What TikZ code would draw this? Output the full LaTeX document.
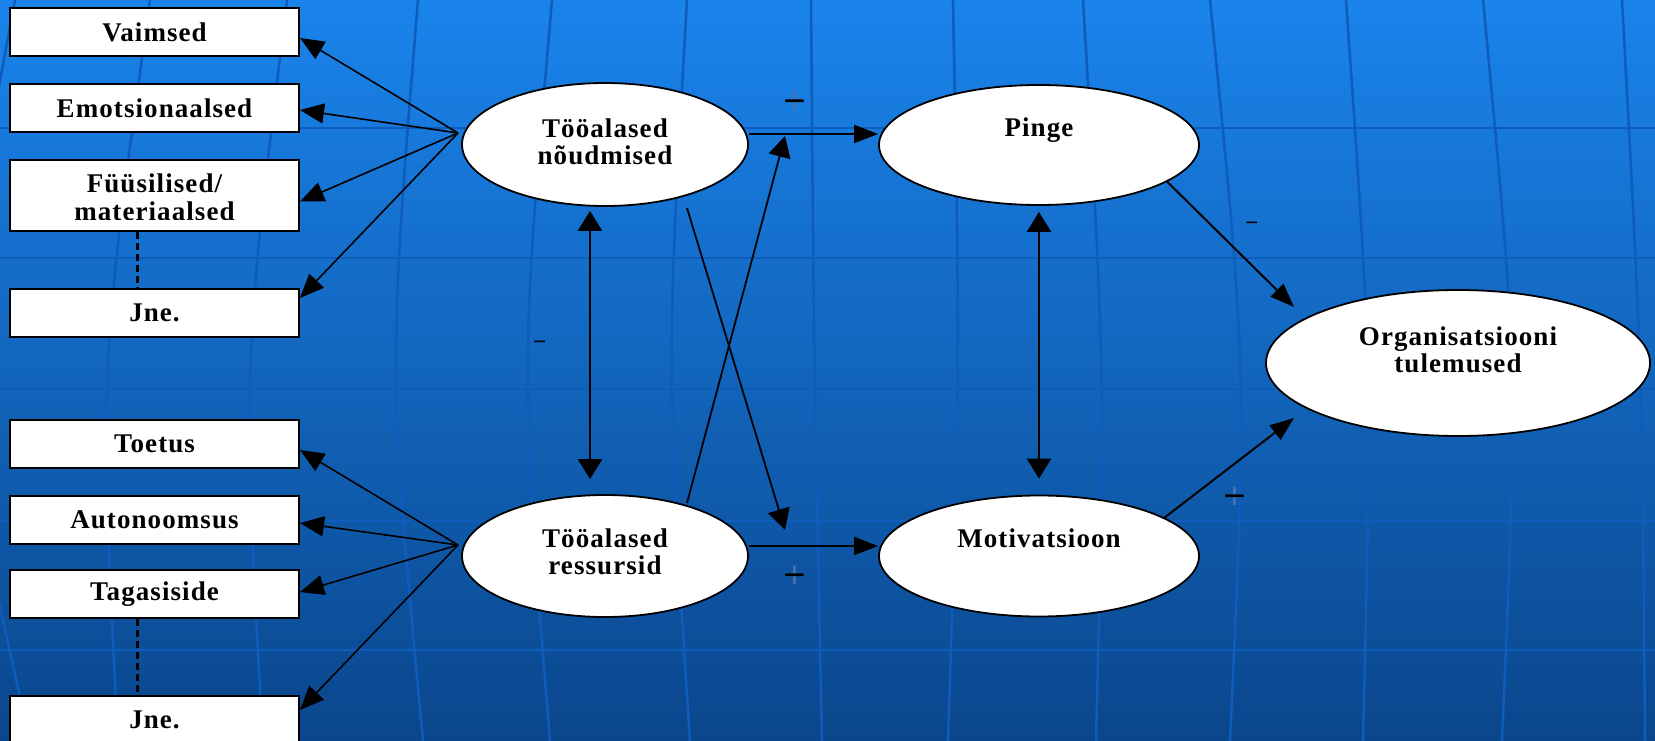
\documentclass[tikz,border=0pt]{standalone}
\usepackage{fontspec}
\setmainfont{Liberation Serif}[LetterSpace=4]
\usetikzlibrary{arrows.meta,shapes.geometric,calc}
\definecolor{bgtop}{RGB}{26,132,236}
\definecolor{bgbot}{RGB}{10,70,140}
\definecolor{gridc}{RGB}{14,92,188}
\definecolor{faintc}{RGB}{70,115,175}
\newcommand\faintplus{\makebox[0pt]{\textcolor{faintc}{+}}\makebox[0pt]{−}}
\tikzset{
  box/.style={draw=black, line width=2pt, fill=white, minimum width=289pt, minimum height=48pt, inner sep=0pt, font=\fontsize{27}{28}\selectfont\bfseries},
  boxtext/.style={inner sep=0pt, align=center, font=\fontsize{27}{28}\selectfont\bfseries},
  oval/.style={ellipse, draw=black, line width=1.8pt, fill=white, inner sep=0pt},
  otext/.style={inner sep=0pt, align=center, font=\fontsize{27}{27}\selectfont\bfseries},
  arr/.style={line width=2pt, -{Triangle[length=24pt,width=18pt]}},
  darr/.style={line width=2.5pt, {Triangle[length=20pt,width=24pt]}-{Triangle[length=20pt,width=24pt]}},
  fan/.style={line width=1.6pt, -{Triangle[length=24pt,width=20pt]}},
  cross/.style={line width=1.8pt, -{Triangle[length=21pt,width=22pt]}},
  dashline/.style={line width=3pt, dash pattern=on 7pt off 4pt},
  signbig/.style={inner sep=0pt, font=\fontsize{40}{40}\selectfont\bfseries},
  signsmall/.style={inner sep=0pt, font=\fontsize{23}{23}\selectfont\bfseries},
  meridian/.style={gridc, line width=2.5pt}
}
\begin{document}
\begin{tikzpicture}[x=1pt,y=-1pt]
% background
\begin{scope}
\clip (0,0) rectangle (1655,741);
\shade[top color=bgtop, bottom color=bgbot] (0,0) rectangle (1655,741);
\foreach \yy in {128,258,389,521,650} {\draw[meridian] (0,\yy) -- (1655,\yy);}
\foreach \xt/\cc/\xb in {15/-54/30, 150/99/118, 287/242/263, 418/388/423, 552/520/550, 687/666/690, 811/814/822, 953/960/948, 1083/1105/1096, 1210/1247/1230, 1346/1372/1363, 1483/1518/1502, 1622/1642/1645}
  {\draw[meridian] (\xt,0) .. controls (\cc,370) .. (\xb,741);}
\end{scope}
\useasboundingbox (0,0) rectangle (1655,741);

% left boxes
\node[box] (b1) at (154.5,32) {Vaimsed};
\node[box] (b2) at (154.5,108) {Emotsionaalsed};
\node[box, minimum height=71pt] (b3) at (154.5,195.5) {};
\begin{scope}
\clip (11,161) rectangle (298,219);
\node[boxtext] (b3t) at (154.5,197.5) {Füüsilised/\\materiaalsed};
\end{scope}
\node[box] (b4) at (154.5,313) {Jne.};
\node[box] (b5) at (154.5,444) {Toetus};
\node[box] (b6) at (154.5,520) {Autonoomsus};
\node[box] (b7) at (154.5,594) {Tagasiside};
\node[box] (b8) at (154.5,720) {Jne.};

\draw[dashline] ([xshift=-17.5pt]b3.south) -- ([xshift=-17.5pt]b4.north);
\draw[dashline] ([xshift=-17.5pt]b7.south) -- ([xshift=-17.5pt]b8.north);

% ellipses
\node[oval, minimum width=286pt, minimum height=123pt] (e1) at (605,144.5) {};
\node[otext] (e1t) at (605,141.5) {Tööalased\\nõudmised};
\node[oval, minimum width=286pt, minimum height=122pt] (e2) at (605,556) {};
\node[otext] (e2t) at (605,552) {Tööalased\\ressursid};
\node[oval, minimum width=320pt, minimum height=120pt] (pinge) at (1039,145) {};
\node[otext] (pinget) at (1039,130) {Pinge};
\node[oval, minimum width=320pt, minimum height=121pt] (motiv) at (1039,556) {};
\node[otext] (motivt) at (1039,538) {Motivatsioon};
\node[oval, minimum width=384pt, minimum height=146pt] (org) at (1458,363) {};
\node[otext] (orgt) at (1458,350) {Organisatsiooni\\tulemused};

% fan coordinates
\coordinate (f1) at (458,133);
\coordinate (f2) at (458,545);
\draw[fan] (f1) -- ([yshift=-6pt]b1.east);
\draw[fan] (f1) -- ([yshift=-2pt]b2.east);
\draw[fan] (f1) -- ([yshift=-6pt]b3.east);
\draw[fan] (f1) -- ([yshift=15pt]b4.east);
\draw[fan] (f2) -- ([yshift=-6pt]b5.east);
\draw[fan] (f2) -- ([yshift=-3pt]b6.east);
\draw[fan] (f2) -- ([yshift=2pt]b7.east);
\draw[fan] (f2) -- ([yshift=10pt]b8.east);

% horizontal arrows
\draw[arr] ([yshift=10.5pt]e1.east) -- ([yshift=11pt]pinge.west);
\draw[arr] ([yshift=10pt]e2.east) -- ([yshift=10pt]motiv.west);

% vertical double arrows
\draw[darr, shorten <=4pt, shorten >=15pt] ([xshift=-15pt]e1.south) -- ([xshift=-15pt]e2.north);
\draw[darr, shorten <=6pt, shorten >=16pt] (pinge.south) -- (motiv.north);

% cross arrows
\coordinate (x1a) at (687,208);
\coordinate (x1b) at (785,530);
\coordinate (x2a) at (687,503);
\coordinate (x2b) at (785,136);
\draw[cross] (x1a) -- (x1b);
\draw[cross] (x2a) -- (x2b);

% to organisation
\coordinate (o1) at (1294,307);
\coordinate (o2) at (1294,418);
\draw[arr] (pinge.-16) -- (o1);
\draw[arr] (motiv.17) -- (o2);

% signs
\node[signbig] (s1) at (795,103) {\faintplus};
\node[signbig] (s2) at (795,577) {\faintplus};
\node[signbig] (s3) at (1235,498) {\faintplus};
\node[signsmall] (s4) at (540,345) {−};
\node[signsmall] (s5) at (1252,226) {−};
\end{tikzpicture}
\end{document}
